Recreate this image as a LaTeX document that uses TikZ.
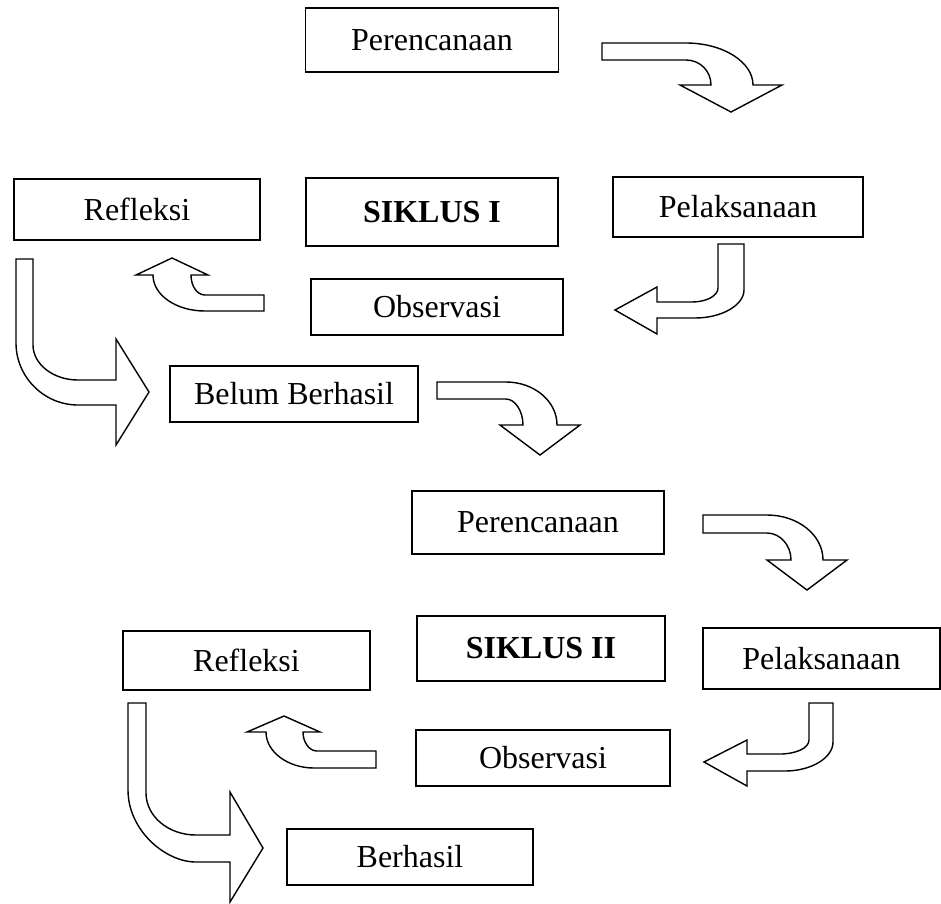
\documentclass[tikz,border=0pt]{standalone}
\usepackage{fontspec}
\setmainfont{Liberation Serif}
\tikzset{
  box/.style={draw, line width=1.2pt, inner sep=0pt, font=\fontsize{32}{37}\selectfont},
  barrow/.style={draw, line width=1.4pt, line join=miter, fill=white},
}
\begin{document}
\begin{tikzpicture}[x=1pt,y=-1pt]
\useasboundingbox (0,0) rectangle (941,903);
% ---------- Cycle I ----------
\node[box, minimum width=253pt, minimum height=64pt] (per1) at (432,40) {Perencanaan};
\node[box, minimum width=246pt, minimum height=61pt] (ref1) at (137,209.5) {Refleksi};
\node[box, minimum width=252pt, minimum height=68pt] (sik1) at (432,212) {\bfseries SIKLUS I};
\node[box, minimum width=250pt, minimum height=60pt] (pel1) at (738,207) {Pelaksanaan};
\node[box, minimum width=252pt, minimum height=56pt] (obs1) at (437,307) {Observasi};
\node[box, minimum width=248pt, minimum height=56pt] (bel) at (294,394) {Belum Berhasil};
% ---------- Cycle II ----------
\node[box, minimum width=252pt, minimum height=63pt] (per2) at (538,522.5) {Perencanaan};
\node[box, minimum width=248pt, minimum height=65pt] (sik2) at (541,648.5) {\bfseries SIKLUS II};
\node[box, minimum width=237pt, minimum height=61pt] (pel2) at (821.5,658.5) {Pelaksanaan};
\node[box, minimum width=247pt, minimum height=59pt] (ref2) at (246.5,660.5) {Refleksi};
\node[box, minimum width=254pt, minimum height=56pt] (obs2) at (543,758) {Observasi};
\node[box, minimum width=246pt, minimum height=56pt] (ber) at (410,857) {Berhasil};
% ---------- block arrows ----------
% Perencanaan I -> Pelaksanaan I
\draw[barrow] (602,43) -- (686,43) .. controls (723,43) and (753,62) .. (753,85)
  -- (782,85) -- (731,112) -- (680,85) -- (711,85)
  .. controls (711,71) and (700,60) .. (686,60) -- (602,60) -- cycle;
% Pelaksanaan I -> Observasi I
\draw[barrow] (718,244) -- (744,244) -- (744,290) .. controls (744,305) and (722,318) .. (695,318)
  -- (657,318) -- (657,334) -- (615,310) -- (657,287) -- (657,302) -- (692,302)
  .. controls (706,302) and (718,296) .. (718,288) -- cycle;
% Observasi I -> Refleksi I
\draw[barrow] (264,295) -- (205,295) .. controls (197,295) and (191,286) .. (191,275)
  -- (208,275) -- (172,258) -- (136,275) -- (153,275)
  .. controls (153,295) and (176,311) .. (205,311) -- (264,311) -- cycle;
% Refleksi I -> Belum Berhasil
\draw[barrow] (16,259) -- (33,259) -- (33,345) .. controls (33,364) and (53,380) .. (78,380)
  -- (116,380) -- (116,339) -- (149,392) -- (116,445) -- (116,405) -- (78,405)
  .. controls (44,405) and (16,377) .. (16,343) -- cycle;
% Belum Berhasil -> Perencanaan II
\draw[barrow] (437,382) -- (506,382) .. controls (534,382) and (557,401) .. (557,425)
  -- (580,425) -- (540,455) -- (500,425) -- (523,425)
  .. controls (523,411) and (515,399) .. (506,399) -- (437,399) -- cycle;
% Perencanaan II -> Pelaksanaan II
\draw[barrow] (703,515) -- (767,515) .. controls (798,515) and (823,535) .. (823,560)
  -- (847,560) -- (807,590) -- (767,560) -- (791,560)
  .. controls (791,545) and (780,533) .. (767,533) -- (703,533) -- cycle;
% Pelaksanaan II -> Observasi II
\draw[barrow] (809,703) -- (833,703) -- (833,742) .. controls (833,758) and (811,771) .. (785,771)
  -- (747,771) -- (747,786) -- (704,762) -- (747,740) -- (747,754) -- (780,754)
  .. controls (796,754) and (809,748) .. (809,740) -- cycle;
% Observasi II -> Refleksi II
\draw[barrow] (376,751) -- (317,751) .. controls (309,751) and (303,742) .. (303,732)
  -- (320,732) -- (284,716) -- (247,732) -- (266,732)
  .. controls (266,752) and (288,768) .. (314,768) -- (376,768) -- cycle;
% Refleksi II -> Berhasil
\draw[barrow] (128,703) -- (146,703) -- (146,793) .. controls (146,816) and (168,835) .. (196,835)
  -- (230,835) -- (230,792) -- (263,848) -- (230,902) -- (230,862) -- (196,862)
  .. controls (165,862) and (128,830) .. (128,790) -- cycle;
\end{tikzpicture}
\end{document}
